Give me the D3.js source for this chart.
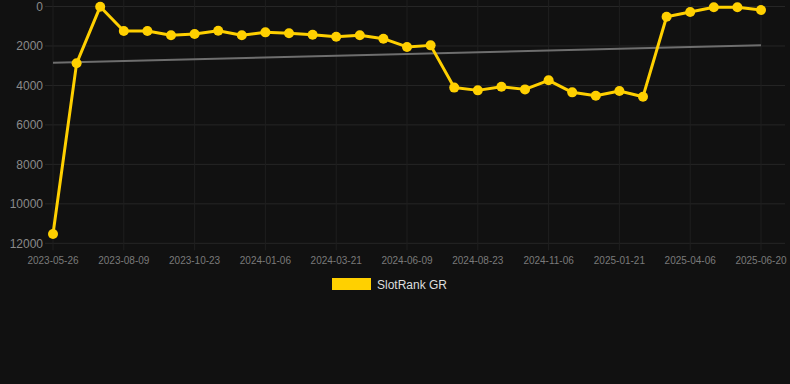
<!DOCTYPE html>
<html><head><meta charset="utf-8">
<script src="https://cdn.jsdelivr.net/npm/d3@7"></script>
<style>
html,body{margin:0;padding:0;background:#111111;}
svg{display:block;}
</style></head>
<body>
<svg id="chart" width="790" height="384"></svg>
<script>
const dates = ["2023-05-26","2023-06-20","2023-07-15","2023-08-09","2023-09-03","2023-09-28","2023-10-23","2023-11-17","2023-12-12","2024-01-06","2024-01-31","2024-02-25","2024-03-21","2024-04-17","2024-05-14","2024-06-09","2024-07-04","2024-07-29","2024-08-23","2024-09-17","2024-10-12","2024-11-06","2024-12-01","2024-12-27","2025-01-21","2025-02-15","2025-03-12","2025-04-06","2025-05-01","2025-05-26","2025-06-20"];
const ranks = [11530,2880,10,1240,1240,1460,1390,1230,1460,1310,1360,1430,1530,1460,1630,2050,1970,4110,4250,4070,4200,3740,4350,4520,4280,4570,520,280,40,40,180];
const trend = [2850,1970];
const yTicks = [0,2000,4000,6000,8000,10000,12000];
const seriesName = "SlotRank GR";

(function(){
const svg = d3.select("#chart");
const pLeft = 45, pRight = 785, pTop = 6.5, pBottom = 243.3;
const x = d3.scalePoint().domain(dates).range([53, 761]);
const y = d3.scaleLinear().domain([0,12000]).range([pTop, pBottom]);

// horizontal grid
svg.append("g").selectAll("line").data(yTicks).join("line")
  .attr("x1", pLeft).attr("x2", pRight)
  .attr("y1", d=>y(d)).attr("y2", d=>y(d))
  .attr("stroke", "#262626").attr("stroke-width", 1);
// vertical grid
const xTickDates = dates.filter((d,i)=>i%3===0);
svg.append("g").selectAll("line").data(xTickDates).join("line")
  .attr("x1", d=>x(d)).attr("x2", d=>x(d))
  .attr("y1", 0).attr("y2", pBottom+7)
  .attr("stroke", "#1f1f1f").attr("stroke-width", 1);

// y labels
svg.append("g").selectAll("text").data(yTicks).join("text")
  .attr("x", 43).attr("y", d=>y(d)).attr("dy","0.35em")
  .attr("text-anchor","end")
  .attr("fill","#8a8a8a").attr("font-family","Arial, Liberation Sans, sans-serif").attr("font-size", 12)
  .text(d=>d);
// x labels
svg.append("g").selectAll("text").data(xTickDates).join("text")
  .attr("x", d=>x(d)).attr("y", 260).attr("dy","0.35em")
  .attr("text-anchor","middle")
  .attr("fill","#7a7a7a").attr("font-family","Arial, Liberation Sans, sans-serif").attr("font-size", 10)
  .text(d=>d);

// trend line
svg.append("line")
  .attr("x1", x(dates[0])).attr("x2", x(dates[dates.length-1]))
  .attr("y1", y(trend[0])).attr("y2", y(trend[1]))
  .attr("stroke", "#6e6e6e").attr("stroke-width", 2);

// line
const line = d3.line().x((d,i)=>x(dates[i])).y(d=>y(d));
svg.append("path").datum(ranks)
  .attr("d", line).attr("fill","none")
  .attr("stroke","#ffd000").attr("stroke-width", 3).attr("stroke-linejoin","round");
svg.append("g").selectAll("circle").data(ranks).join("circle")
  .attr("cx",(d,i)=>x(dates[i])).attr("cy", d=>y(d)).attr("r", 5)
  .attr("fill","#ffd000");

// legend
svg.append("rect").attr("x",332).attr("y",278).attr("width",39).attr("height",12).attr("fill","#ffd000");
svg.append("text").attr("x",377).attr("y",284.5).attr("dy","0.35em")
  .attr("fill","#dddddd").attr("font-family","Arial, Liberation Sans, sans-serif").attr("font-size",12)
  .text(seriesName);
})();
</script>
</body></html>
